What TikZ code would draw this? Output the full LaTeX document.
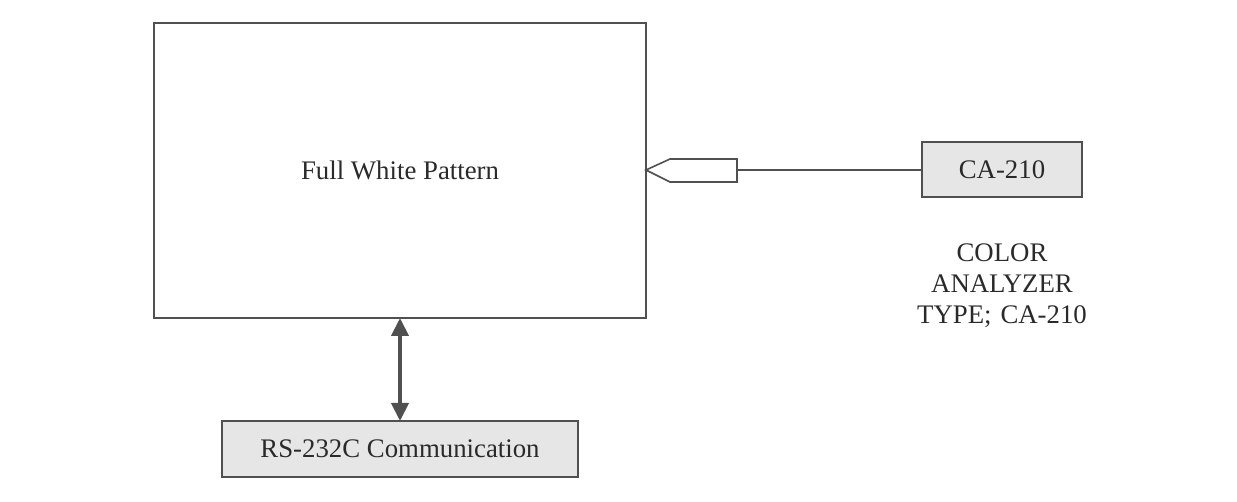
\documentclass[tikz,border=0pt]{standalone}
\usepackage{fontspec}
\setmainfont{Liberation Serif}
\usetikzlibrary{arrows.meta}
\definecolor{ln}{HTML}{505050}
\definecolor{tx}{HTML}{2A2A2A}
\definecolor{fillg}{HTML}{E6E6E6}
\tikzset{
  frame/.style={draw=ln, line width=2pt},
  graybox/.style={draw=ln, line width=2pt, fill=fillg},
  lbl/.style={text=tx, font=\fontsize{26.8}{31}\selectfont, align=center},
}
\begin{document}
\begin{tikzpicture}[x=1pt,y=-1pt]
\useasboundingbox (0,0) rectangle (1237,502);
% main display box
\draw[frame] (154,23) rectangle (646,318);
\coordinate (mainS) at (400,318);
\node[lbl] (fwp) at (400,170) {Full White Pattern};
% probe
\draw[frame, line width=1.6pt] (646,170) -- (670,159) -- (737,159) -- (737,182) -- (670,182) -- cycle;
\coordinate (probeR) at (737,170);
% CA-210 box
\draw[graybox] (922,142) rectangle (1082,197);
\node[lbl] (ca) at (1002,169.5) {CA-210};
\coordinate (caW) at (922,170);
\draw[draw=ln, line width=1.6pt] (probeR) -- (caW);
\node[lbl, text width=200pt] (desc) at (1002,286) {COLOR\\ANALYZER\\TYPE; CA-210};
% RS-232C
\draw[graybox] (222,421) rectangle (578,477);
\node[lbl] (rs) at (400,449) {RS-232C Communication};
\coordinate (rsN) at (400,421);
\draw[draw=ln, line width=4pt, {Triangle[length=18pt,width=17pt]}-{Triangle[length=18pt,width=17pt]}] (mainS) -- (rsN);
\end{tikzpicture}
\end{document}
